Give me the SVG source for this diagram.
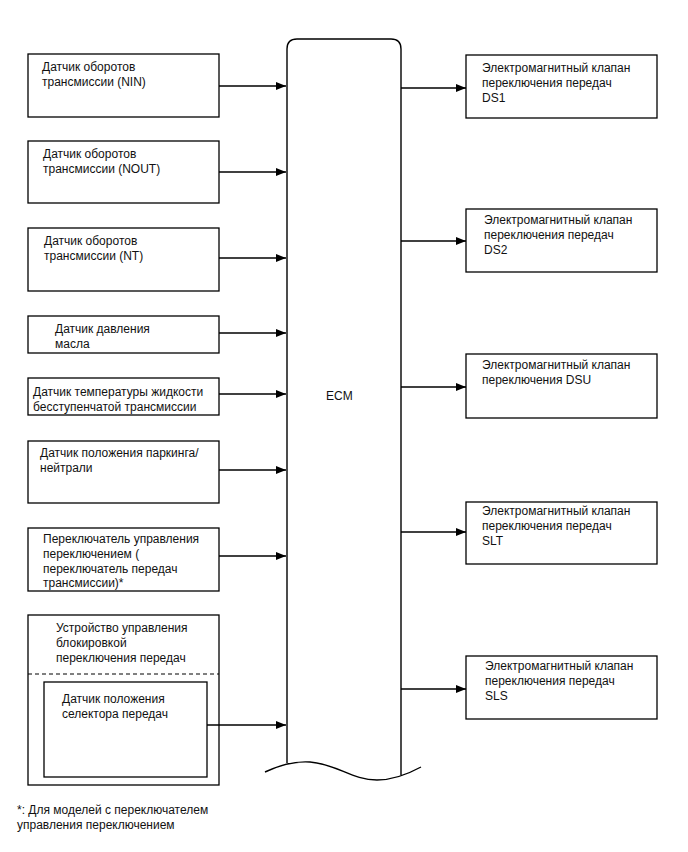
<svg xmlns="http://www.w3.org/2000/svg" width="688" height="852" viewBox="0 0 688 852">
<defs>
<marker id="arr" markerWidth="10" markerHeight="8" refX="10" refY="4" orient="auto" markerUnits="userSpaceOnUse">
<path d="M0,0 L10,4 L0,8 Z" fill="#000"/>
</marker>
<style>
.box{fill:#fff;stroke:#000;stroke-width:1.3}
.t{font-family:"Liberation Sans",Arial,sans-serif;font-size:12px;fill:#111}
.c{stroke:#000;stroke-width:1.3;fill:none;marker-end:url(#arr)}
</style>
</defs>
<rect width="688" height="852" fill="#fff"/>

<g id="ecm">
<path d="M287,763 L287,49 Q287,39 297,39 L391,39 Q401,39 401,49 L401,775" fill="none" stroke="#000" stroke-width="1.4"/>
<path d="M265,772 C280,765 295,761 310,762 C337,764 352,780 377,780 C395,780 410,773 421,767" fill="none" stroke="#000" stroke-width="1.4"/>
<text class="t" x="326" y="400">ECM</text>
</g>

<g id="nin">
<rect class="box" x="28" y="54" width="191" height="63"/>
<text class="t" x="42" y="71">Датчик оборотов</text>
<text class="t" x="42" y="86">трансмиссии (NIN)</text>
</g>
<g id="nout">
<rect class="box" x="28" y="141" width="191" height="62"/>
<text class="t" x="43" y="158">Датчик оборотов</text>
<text class="t" x="43" y="173">трансмиссии (NOUT)</text>
</g>
<g id="nt">
<rect class="box" x="28" y="228" width="191" height="63"/>
<text class="t" x="44" y="245">Датчик оборотов</text>
<text class="t" x="44" y="260">трансмиссии (NT)</text>
</g>
<g id="oil">
<rect class="box" x="28" y="316" width="191" height="37"/>
<text class="t" x="55" y="333">Датчик давления</text>
<text class="t" x="55" y="348">масла</text>
</g>
<g id="temp">
<rect class="box" x="28" y="378" width="191" height="37"/>
<text class="t" x="33" y="396">Датчик температуры жидкости</text>
<text class="t" x="33" y="411">бесступенчатой трансмиссии</text>
</g>
<g id="pn">
<rect class="box" x="28" y="441" width="191" height="62"/>
<text class="t" x="40" y="457">Датчик положения паркинга/</text>
<text class="t" x="40" y="472">нейтрали</text>
</g>
<g id="sw">
<rect class="box" x="28" y="528" width="191" height="63"/>
<text class="t" x="43" y="543">Переключатель управления</text>
<text class="t" x="43" y="558">переключением (</text>
<text class="t" x="43" y="573">переключатель передач</text>
<text class="t" x="43" y="587">трансмиссии)*</text>
</g>
<g id="lock">
<rect class="box" x="28" y="615" width="191" height="170"/>
<line x1="28" y1="674" x2="219" y2="674" stroke="#000" stroke-width="1" stroke-dasharray="4,3"/>
<text class="t" x="56" y="632">Устройство управления</text>
<text class="t" x="56" y="647">блокировкой</text>
<text class="t" x="56" y="662">переключения передач</text>
</g>
<g id="sel">
<rect class="box" x="44" y="682" width="163" height="95"/>
<text class="t" x="62" y="703">Датчик положения</text>
<text class="t" x="62" y="718">селектора передач</text>
</g>

<g id="ds1">
<rect class="box" x="466" y="55" width="191" height="63"/>
<text class="t" x="482" y="72">Электромагнитный клапан</text>
<text class="t" x="482" y="87">переключения передач</text>
<text class="t" x="482" y="102">DS1</text>
</g>
<g id="ds2">
<rect class="box" x="466" y="209" width="191" height="63"/>
<text class="t" x="484" y="224">Электромагнитный клапан</text>
<text class="t" x="484" y="239">переключения передач</text>
<text class="t" x="484" y="254">DS2</text>
</g>
<g id="dsu">
<rect class="box" x="466" y="354" width="191" height="64"/>
<text class="t" x="482" y="369">Электромагнитный клапан</text>
<text class="t" x="482" y="384">переключения DSU</text>
</g>
<g id="slt">
<rect class="box" x="466" y="502" width="191" height="62"/>
<text class="t" x="482" y="515">Электромагнитный клапан</text>
<text class="t" x="482" y="530">переключения передач</text>
<text class="t" x="482" y="545">SLT</text>
</g>
<g id="sls">
<rect class="box" x="466" y="656" width="191" height="63"/>
<text class="t" x="485" y="670">Электромагнитный клапан</text>
<text class="t" x="485" y="685">переключения передач</text>
<text class="t" x="485" y="700">SLS</text>
</g>

<g id="connectors">
<line class="c" x1="219" y1="86" x2="286" y2="86"/>
<line class="c" x1="219" y1="172" x2="286" y2="172"/>
<line class="c" x1="219" y1="258" x2="286" y2="258"/>
<line class="c" x1="219" y1="333" x2="286" y2="333"/>
<line class="c" x1="219" y1="394" x2="286" y2="394"/>
<line class="c" x1="219" y1="470" x2="286" y2="470"/>
<line class="c" x1="219" y1="556" x2="286" y2="556"/>
<line class="c" x1="207" y1="725" x2="286" y2="725"/>
<line class="c" x1="401" y1="88" x2="466" y2="88"/>
<line class="c" x1="401" y1="241" x2="466" y2="241"/>
<line class="c" x1="401" y1="387" x2="466" y2="387"/>
<line class="c" x1="401" y1="532" x2="466" y2="532"/>
<line class="c" x1="401" y1="689" x2="466" y2="689"/>
</g>

<g id="footnote">
<text class="t" x="17" y="814">*: Для моделей с переключателем</text>
<text class="t" x="17" y="829">управления переключением</text>
</g>
</svg>
